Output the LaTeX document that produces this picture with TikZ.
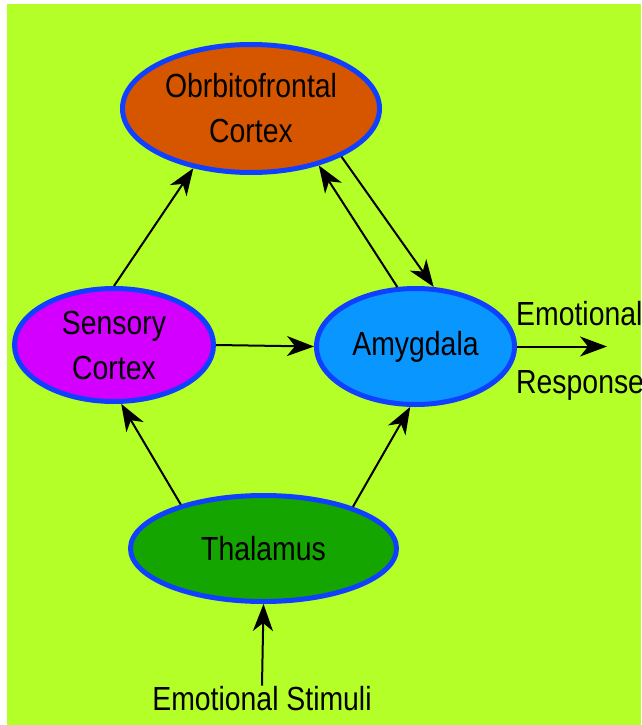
\documentclass[tikz,border=0pt]{standalone}
\usepackage{fontspec}
\setmainfont{Liberation Sans}
\newfontfamily\labelfont[FakeStretch=0.85]{Liberation Sans}
\usepackage{xcolor}
\usetikzlibrary{shapes.geometric, arrows.meta}

\definecolor{bggreen}{RGB}{181,255,40}
\definecolor{rimblue}{RGB}{16,64,255}
\definecolor{ofcorange}{RGB}{214,86,0}
\definecolor{sensmagenta}{RGB}{212,0,255}
\definecolor{amyblue}{RGB}{10,150,255}
\definecolor{thalgreen}{RGB}{20,165,0}

\begin{document}
\begin{tikzpicture}[
    x=1pt, y=-1pt,
    region/.style={ellipse, draw=rimblue, line width=5pt, inner sep=0pt, align=center, font=\labelfont\fontsize{33.4}{45}\selectfont},
    tag/.style={inner sep=0pt, font=\labelfont\fontsize{33.4}{40}\selectfont},
    arrow/.style={-{Stealth[length=27pt, width=20pt, inset=8pt]}, line width=2pt}
]
% Canvas
\useasboundingbox (0,0) rectangle (641,725);
\fill[bggreen] (7,4) rectangle (641,725);

% Brain regions
\node[region, fill=ofcorange, minimum width=257pt, minimum height=128pt] (ofc) at (251,108.5) {Obrbitofrontal\\Cortex};
\node[region, fill=sensmagenta, minimum width=199pt, minimum height=113pt] (sens) at (114,345) {Sensory\\Cortex};
\node[region, fill=amyblue, minimum width=198pt, minimum height=116pt] (amy) at (415.5,346.5) {Amygdala};
\node[region, fill=thalgreen, minimum width=266pt, minimum height=106pt] (thal) at (263.5,548.5) {Thalamus};

% Input and output labels
\node[tag, anchor=base] (stim) at (262,710) {Emotional Stimuli};
\node[tag, anchor=base west] (emo) at (516,325) {Emotional};
\node[tag, anchor=base west] (resp) at (516,393) {Response};
\coordinate (out) at (607,346.5);

% === Arrows ===
\draw[arrow] (stim.north) -- (thal.south);
\draw[arrow] (thal.152) -- (sens.277);
\draw[arrow] (thal.25) -- (amy.265);
\draw[arrow] (sens.east) -- (amy.west);
\draw[arrow] (sens.90) -- (ofc.226);
\draw[arrow] (amy.107) -- (ofc.320);
\draw[arrow] (ofc.332) -- (amy.73);
\draw[arrow] (amy.east) -- (out);
\end{tikzpicture}
\end{document}
